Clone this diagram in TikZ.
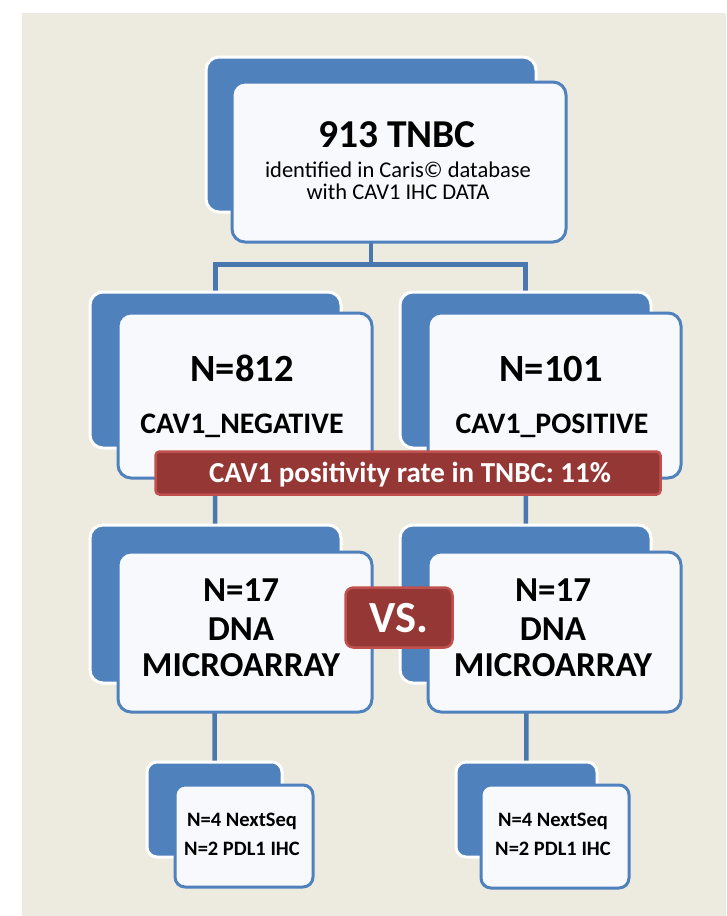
\documentclass[tikz,border=0pt]{standalone}
\usepackage{fontspec}
\setmainfont{Carlito}
\usetikzlibrary{backgrounds}
\definecolor{bgC}{HTML}{EDEAE0}
\definecolor{blueC}{HTML}{4F81BD}
\definecolor{lineC}{HTML}{4A78AE}
\definecolor{frontC}{HTML}{F8F9FC}
\definecolor{redC}{HTML}{953735}
\definecolor{redB}{HTML}{C0504D}
\tikzset{
  backbox/.style={draw=white, line width=3pt, fill=blueC, rounded corners=13pt, inner sep=0pt},
  frontbox/.style={draw=blueC, line width=3pt, fill=frontC, rounded corners=13pt, inner sep=0pt},
  smallback/.style={backbox, rounded corners=10pt},
  smallfront/.style={frontbox, rounded corners=10pt},
  conn/.style={draw=lineC, line width=4.5pt},
  txt/.style={anchor=base, inner sep=0pt, text=black, font=\bfseries},
  redbox/.style={draw=redB, line width=2.5pt, fill=redC, inner sep=0pt},
}
\newcommand{\fsz}[1]{\fontsize{#1}{#1}\selectfont}
\begin{document}
\begin{tikzpicture}[x=1pt,y=-1pt]
\useasboundingbox (0,0) rectangle (726,916);

\coordinate (bus) at (371,264.5);

% back boxes
\node[backbox, minimum width=330pt, minimum height=155pt] (topback) at (371,134.5) {};
\node[backbox, minimum width=251pt, minimum height=156pt] (negback) at (215.5,370) {};
\node[backbox, minimum width=251pt, minimum height=156pt] (posback) at (525.5,370) {};
\node[backbox, minimum width=251pt, minimum height=158pt] (negback3) at (215.5,604) {};
\node[backbox, minimum width=251pt, minimum height=158pt] (posback3) at (525.5,604) {};
\node[smallback, minimum width=135pt, minimum height=95pt] (negback4) at (214.5,809.5) {};
\node[smallback, minimum width=141pt, minimum height=95pt] (posback4) at (526.5,809.5) {};

% background and connectors (behind boxes)
\begin{scope}[on background layer]
\fill[bgC] (22,13) rectangle (726,916);
\draw[conn] (topback.center) -- (bus);
\draw[conn] (negback.center) |- (bus) -| (posback.center);
\draw[conn] (negback.center) -- (negback4.center);
\draw[conn] (posback.center) -- (posback4.center);
\end{scope}

% front boxes
\node[frontbox, minimum width=334pt, minimum height=160pt] (topfront) at (399,162) {};
\node[frontbox, minimum width=254pt, minimum height=165pt] (negfront) at (245,395.5) {};
\node[frontbox, minimum width=253pt, minimum height=165pt] (posfront) at (554.5,395.5) {};
\node[frontbox, minimum width=254pt, minimum height=160pt] (negfront3) at (245,632) {};
\node[frontbox, minimum width=253pt, minimum height=160pt] (posfront3) at (554.5,632) {};
\node[smallfront, minimum width=138pt, minimum height=102pt] (negfront4) at (244,836) {};
\node[smallfront, minimum width=148pt, minimum height=103pt] (posfront4) at (555,836.5) {};

% texts
\node[txt, font=\bfseries\fsz{39.5}] (t1) at (397,147) {913 TNBC};
\node[txt, font=\fsz{22.5}] (t2) at (398,177) {identified in Caris© database};
\node[txt, font=\fsz{22.5}] (t3) at (398,199.5) {with CAV1 IHC DATA};

\node[txt, font=\bfseries\fsz{38.5}] (n1) at (242,381.5) {N=812};
\node[txt, font=\bfseries\fsz{29.8}] (n2) at (242,433) {CAV1\_NEGATIVE};
\node[txt, font=\bfseries\fsz{38.5}] (p1) at (551,381.5) {N=101};
\node[txt, font=\bfseries\fsz{29.8}] (p2) at (552,433) {CAV1\_POSITIVE};

\node[txt, font=\bfseries\fsz{35}] (a1) at (241,601.5) {N=17};
\node[txt, font=\bfseries\fsz{35}] (a2) at (241,640) {DNA};
\node[txt, font=\bfseries\fsz{35}] (a3) at (241,676.5) {MICROARRAY};
\node[txt, font=\bfseries\fsz{35}] (b1) at (553,601.5) {N=17};
\node[txt, font=\bfseries\fsz{35}] (b2) at (553,640) {DNA};
\node[txt, font=\bfseries\fsz{35}] (b3) at (553,676.5) {MICROARRAY};

\node[txt, font=\bfseries\fsz{20.5}] (c1) at (242,826) {N=4 NextSeq};
\node[txt, font=\bfseries\fsz{20.5}] (c2) at (242,855) {N=2 PDL1 IHC};
\node[txt, font=\bfseries\fsz{20.5}] (d1) at (553,826) {N=4 NextSeq};
\node[txt, font=\bfseries\fsz{20.5}] (d2) at (553,855) {N=2 PDL1 IHC};

% red banner and VS
\node[redbox, rounded corners=4pt, minimum width=505pt, minimum height=43pt] (banner) at (408,473) {};
\node[txt, text=white, font=\bfseries\fsz{29}] (bt) at (410,482) {CAV1 positivity rate in TNBC: 11\%};
\node[redbox, rounded corners=8pt, minimum width=107pt, minimum height=60pt] (vs) at (399,617.5) {};
\node[txt, text=white, font=\bfseries\fsz{44.5}] (vst) at (399,632.5) {VS.};
\end{tikzpicture}
\end{document}
